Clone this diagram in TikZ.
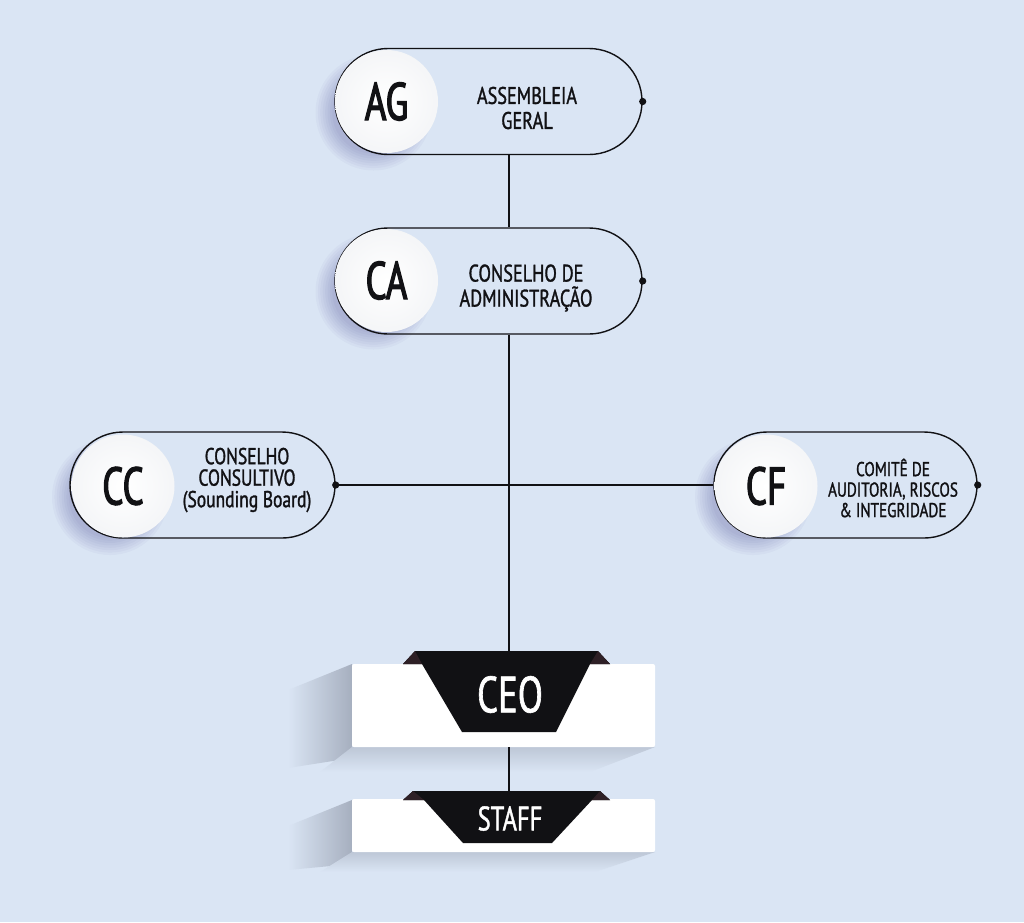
\documentclass[tikz,border=0pt]{standalone}
\usepackage{fontspec}
\setmainfont{PT Sans}[FakeStretch=0.76,FakeBold=1.3]
\newfontfamily\bigf{PT Sans}[FakeStretch=0.7,FakeBold=2.2]
\newfontfamily\boxf{PT Sans}[FakeStretch=0.72,FakeBold=1.2]
\usetikzlibrary{shapes.misc,calc}
\definecolor{bg}{HTML}{DAE5F4}
\definecolor{bgdark}{HTML}{A6AFBF}
\definecolor{ink}{HTML}{111114}
\definecolor{flap}{HTML}{2E2026}
\pgfdeclarelayer{bgl}
\pgfdeclarelayer{back}
\pgfsetlayers{bgl,back,main}
\begin{document}
\begin{tikzpicture}[x=1pt,y=-1pt,
  pill/.style={rounded rectangle, draw=ink, line width=1.4pt, minimum height=106pt, inner sep=0pt},
  circ/.style={circle, minimum size=103pt, inner sep=0pt, shade, inner color=white, outer color=white!88!bgdark,
     text=ink, font=\bigf\fontsize{53}{53}\selectfont},
  lab/.style={align=center, text=ink, inner sep=0pt, font=\fontsize{24}{25}\selectfont},
  conn/.style={draw=ink, line width=1.4pt},
  dot/.style={fill=ink},
  box/.style={fill=white, rounded corners=2pt, inner sep=0pt},
  trap/.style={fill=ink},
  flapc/.style={fill=flap},
  boxtext/.style={text=white, inner sep=0pt, font=\boxf\fontsize{51}{51}\selectfont}
]
\begin{pgfonlayer}{bgl}
\fill[bg] (0,0) rectangle (1024,922);
\end{pgfonlayer}
\useasboundingbox (0,0) rectangle (1024,922);
\coordinate (spine) at (509,0);

% pills
\node[pill, minimum width=307pt] (ag) at (488.5,101.5) {};
\node[pill, minimum width=307pt] (ca) at (488.5,281) {};
\node[pill, minimum width=265pt] (cc) at (202.5,485) {};
\node[pill, minimum width=263pt] (cf) at (845.5,485) {};

% boxes
\node[box, minimum width=303pt, minimum height=83pt] (ceo) at (503.5,705.5) {};
\node[box, minimum width=303pt, minimum height=53pt] (staff) at (503.5,825.5) {};

% connectors
\draw[conn] (ag.south -| spine) -- (ca.north -| spine);
\draw[conn] (ca.south -| spine) -- (ceo.north -| spine);
\draw[conn] (ceo.south -| spine) -- (staff.north -| spine);
\draw[conn] (cc.east) -- (cf.west);

% dots
\foreach \n in {ag,ca,cc,cf} \fill[dot] (\n.east) circle (3.6);

% circles
\node[circ] (agc) at (386.5,101.5) {AG};
\node[circ] (cac) at (386.5,280.5) {CA};
\node[circ] (ccc) at (123,486) {CC};
\node[circ] (cfc) at (766,486) {CF};

% labels
\node[lab] (agt) at (527,108) {ASSEMBLEIA\\GERAL};
\node[lab] (cat) at (526,288) {CONSELHO DE\\ADMINISTRAÇÃO};
\node[lab, font=\fontsize{23}{21.5}\selectfont] (cct) at (247,480) {CONSELHO\\CONSULTIVO\\(Sounding Board)};
\node[lab, font=\fontsize{20}{20.5}\selectfont] (cft) at (893,488) {COMITÊ DE\\AUDITORIA, RISCOS\\\&\ INTEGRIDADE};

% trapezoids
\fill[trap] (403,664) -- (415,651) -- (598,651) -- (610,664) -- (590,664) -- (556,732) -- (462,732) -- (422,664) -- cycle;
\fill[flapc] (403,664) -- (415,651) -- (422,664) -- cycle;
\fill[flapc] (610,664) -- (598,651) -- (590,664) -- cycle;
\node[boxtext] (ceot) at (510,694.5) {CEO};

\fill[trap] (403,800) -- (413,791) -- (600,791) -- (610,800) -- (592,800) -- (552,843) -- (463,843) -- (424,800) -- cycle;
\fill[flapc] (403,800) -- (413,791) -- (424,800) -- cycle;
\fill[flapc] (610,800) -- (600,791) -- (592,800) -- cycle;
\node[boxtext, font=\boxf\fontsize{34}{34}\selectfont] (stafft) at (510,818.5) {STAFF};

% shadows
\begin{pgfonlayer}{back}
\foreach \n in {agc,cac,ccc,cfc} {
  \foreach \k in {0,...,7}
    \fill[black!60!blue, opacity=0.028] ($(\n.center)+(-13,11)$) circle ({58-\k*2.4});
}
\shade[left color=bg, right color=bgdark] (352,664) -- (288,690) -- (288,768) -- (352,758) -- cycle;
\shade[top color=bg!45!bgdark, bottom color=bg] (352,747) -- (655,747) -- (590,772) -- (320,772) -- cycle;
\shade[left color=bg, right color=bgdark] (352,800) -- (288,826) -- (288,870) -- (352,864) -- cycle;
\shade[top color=bg!45!bgdark, bottom color=bg] (352,852) -- (655,852) -- (595,872) -- (320,872) -- cycle;
\end{pgfonlayer}
\end{tikzpicture}
\end{document}
